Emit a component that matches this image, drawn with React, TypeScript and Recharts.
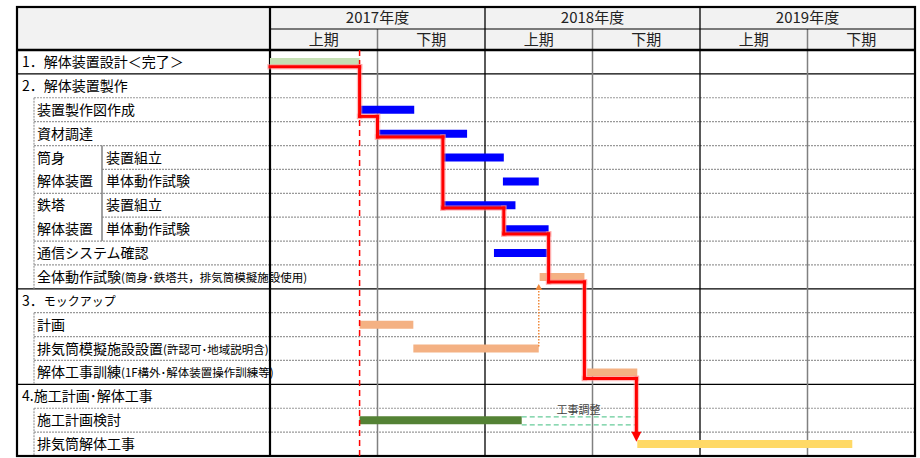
import {
  Bar,
  Cell,
  ComposedChart,
  Customized,
  ReferenceDot,
  ReferenceLine,
  XAxis,
  YAxis,
} from "recharts";

const YEAR_TICKS = [6, 18, 30];
const YEAR_LABELS = ["2017年度", "2018年度", "2019年度"];
const HALF_TICKS = [3, 9, 15, 21, 27, 33];
const HALF_LABELS = ["上期", "下期", "上期", "下期", "上期", "下期"];

const ROW_LABELS = [
  "1．解体装置設計＜完了＞",
  "2．解体装置製作",
  "装置製作図作成",
  "資材調達",
  "装置組立",
  "単体動作試験",
  "装置組立",
  "単体動作試験",
  "通信システム確認",
  "全体動作試験",
  "3．",
  "計画",
  "排気筒模擬施設設置",
  "解体工事訓練",
  "4.施工計画･解体工事",
  "施工計画検討",
  "排気筒解体工事",
];
const ROW_NOTES = [
  "", "", "", "", "", "", "", "", "",
  "(筒身･鉄塔共，排気筒模擬施設使用)",
  "モックアップ",
  "",
  "(許認可･地域説明含)",
  "(1F構外･解体装置操作訓練等)",
  "", "", "",
];
const ROW_GROUPS = ["", "", "", "", "筒身", "解体装置", "鉄塔", "解体装置", "", "", "", "", "", "", "", "", ""];
const ROW_INDENT = [0, 0, 1, 1, 2, 2, 2, 2, 1, 1, 0, 1, 1, 1, 0, 1, 1];

// months from 2017-04
const TASK_START = [0, null, 5, 6, 9.65, 13, 9.65, 13.15, 12.5, 15.05, null, 5, 8, 17.7, null, 5, 20.5];
const TASK_END = [5, null, 8.05, 11, 13.05, 15, 13.7, 15.55, 15.5, 17.55, null, 8, 15, 20.5, null, 14.05, 32.5];
const TASK_COLOR = [
  "#c5e0b4", "", "#0000ff", "#0000ff", "#0000ff", "#0000ff", "#0000ff", "#0000ff", "#0000ff",
  "#f4b183", "", "#f4b183", "#f4b183", "#f4b183", "", "#548235", "#ffd966",
];

// critical path (month, row position from the top)
const PATH_MONTHS = [0, 5, 5, 6, 6, 9.65, 9.65, 13.05, 13.05, 15.55, 15.55, 17.55, 17.55, 20.45, 20.45];
const PATH_ROWS = [0.7, 0.7, 2.78, 2.78, 3.64, 3.64, 6.62, 6.62, 7.7, 7.7, 9.71, 9.71, 13.75, 13.75, 16.0];
const PATH_END = { month: 20.45, row: 16.4 };

const MOCK_LINK = { month: 15, from: 12.42, to: 10.02, tip: 9.8 };
const ADJUST = { from: 14.05, to: 20.4, top: 15.36, bottom: 15.7, label: "工事調整" };
const NOW_MONTH = 5;

const data = ROW_LABELS.map((_, i) => ({
  key: String(i),
  range: TASK_START[i] == null ? null : [TASK_START[i], TASK_END[i]],
  color: TASK_COLOR[i],
}));

const N = ROW_LABELS.length;
// the numeric y axis of a vertical chart spans the data index range 0..N-1
const ry = (r: number) => (r * (N - 1)) / N;

const W = 920;
const H = 458;
const L = 17;
const T = 7;
const R = 915;
const B = 456;
const LABEL_R = 270;
const HEAD1 = 29;
const HEAD2 = 50;
const ROW_H = (B - HEAD2) / N;
const mx = (m: number) => LABEL_R + (m * (R - LABEL_R)) / 36;
const FONT = '"Noto Sans CJK JP", "Noto Sans", sans-serif';

function Frame() {
  const lines: any[] = [];
  for (let i = 1; i < N; i++) {
    const y = HEAD2 + i * ROW_H;
    if (ROW_INDENT[i] === 0) {
      lines.push(<line key={`h${i}`} x1={L} x2={R} y1={y} y2={y} stroke="#000" strokeWidth={1.3} />);
    } else {
      const x1 = ROW_INDENT[i] === 2 && ROW_GROUPS[i] === "解体装置" ? 102 : 34;
      lines.push(
        <line key={`h${i}`} x1={x1} x2={R} y1={y} y2={y} stroke="#999" strokeWidth={1.2} strokeDasharray="2 1" />
      );
    }
  }
  const sub = (a: number, b: number, x: number, k: string) => (
    <line key={k} x1={x} x2={x} y1={HEAD2 + a * ROW_H} y2={HEAD2 + b * ROW_H} stroke="#999" strokeWidth={1.2} strokeDasharray="2 1" />
  );
  return (
    <g>
      {lines}
      {sub(2, 10, 34, "s1")}
      {sub(11, 14, 34, "s2")}
      {sub(15, 17, 34, "s3")}
      <line x1={102} x2={102} y1={HEAD2 + 4 * ROW_H} y2={HEAD2 + 8 * ROW_H} stroke="#808080" strokeWidth={1.5} />
      {[6, 18, 30].map((m) => (
        <line key={`v${m}`} x1={mx(m)} x2={mx(m)} y1={HEAD1} y2={B} stroke="#808080" strokeWidth={1.5} />
      ))}
      {[12, 24].map((m) => (
        <line key={`y${m}`} x1={mx(m)} x2={mx(m)} y1={T} y2={B} stroke="#000" strokeWidth={1.3} />
      ))}
      <line x1={LABEL_R} x2={R} y1={HEAD1} y2={HEAD1} stroke="#000" strokeWidth={1} />
      <line x1={L} x2={R} y1={HEAD2} y2={HEAD2} stroke="#000" strokeWidth={2.5} />
      <line x1={LABEL_R} x2={LABEL_R} y1={T} y2={B} stroke="#000" strokeWidth={2.2} />
      <rect x={L} y={T} width={R - L} height={B - T} fill="none" stroke="#000" strokeWidth={2.2} />
    </g>
  );
}

function RowTick(props: any) {
  const { y, payload } = props;
  const i = Number(payload.value);
  const indent = ROW_INDENT[i];
  const x = indent === 0 ? 22 : indent === 1 ? 37 : 106;
  return (
    <g fontFamily={FONT} fill="#000">
      {ROW_GROUPS[i] && (
        <text x={37} y={y} dy="0.36em" fontSize={14}>
          {ROW_GROUPS[i]}
        </text>
      )}
      <text x={x} y={y} dy="0.36em" fontSize={14}>
        {ROW_LABELS[i]}
        {ROW_NOTES[i] && <tspan fontSize={i === 10 ? 12 : 11.5}>{ROW_NOTES[i]}</tspan>}
      </text>
    </g>
  );
}

const headerTick = (ticks: number[], labels: string[], cy: number) => (props: any) => {
  const { x, payload } = props;
  return (
    <text x={x} y={cy} dy="0.36em" textAnchor="middle" fontSize={15} fontFamily={FONT} fill="#222">
      {labels[ticks.indexOf(payload.value)]}
    </text>
  );
};

const seg = (x1: number, r1: number, x2: number, r2: number) => [
  { x: x1, y: ry(r1) },
  { x: x2, y: ry(r2) },
];

export default function App() {
  const pathSegs = PATH_MONTHS.slice(1).map((m, i) =>
    seg(PATH_MONTHS[i], PATH_ROWS[i], m, PATH_ROWS[i + 1])
  );
  return (
    <div style={{ position: "absolute", left: 0, top: 0, width: W, height: H, background: "#fff" }}>
      <div
        style={{ position: "absolute", left: L, top: T, width: R - L, height: HEAD2 - T, background: "#f2f2f2" }}
      />
      <div style={{ position: "absolute", left: 0, top: 0 }}>
        <ComposedChart
          width={W}
          height={H}
          layout="vertical"
          data={data}
          margin={{ top: T, right: W - R, bottom: H - B, left: L }}
          style={{ fontFamily: FONT }}
        >
          <Customized component={Frame} />
          <XAxis type="number" domain={[0, 36]} allowDataOverflow hide />
          <XAxis
            xAxisId="half"
            orientation="top"
            type="number"
            domain={[0, 36]}
            allowDataOverflow
            ticks={HALF_TICKS}
            interval={0}
            height={21}
            axisLine={false}
            tickLine={false}
            tick={headerTick(HALF_TICKS, HALF_LABELS, 39.5)}
          />
          <XAxis
            xAxisId="year"
            orientation="top"
            type="number"
            domain={[0, 36]}
            allowDataOverflow
            ticks={YEAR_TICKS}
            interval={0}
            height={22}
            axisLine={false}
            tickLine={false}
            tick={headerTick(YEAR_TICKS, YEAR_LABELS, 18)}
          />
          <YAxis
            type="category"
            dataKey="key"
            width={LABEL_R - L}
            interval={0}
            axisLine={false}
            tickLine={false}
            tick={<RowTick />}
          />
          <YAxis yAxisId="r" type="number" domain={[0, N - 1]} allowDataOverflow hide />
          <Bar dataKey="range" barSize={8} isAnimationActive={false}>
            {data.map((d) => (
              <Cell key={d.key} fill={d.color} />
            ))}
          </Bar>
          <ReferenceLine x={NOW_MONTH} stroke="#ff0000" strokeWidth={1.5} strokeDasharray="6 4" />
          <ReferenceLine
            yAxisId="r"
            segment={seg(ADJUST.from, ADJUST.top, ADJUST.to, ADJUST.top)}
            stroke="#66cc99"
            strokeWidth={1.3}
            strokeDasharray="5 3"
            label={{ value: ADJUST.label, position: "top", fontSize: 11, fill: "#404040", offset: 3 }}
          />
          <ReferenceLine
            yAxisId="r"
            segment={seg(ADJUST.from, ADJUST.bottom, ADJUST.to, ADJUST.bottom)}
            stroke="#66cc99"
            strokeWidth={1.3}
            strokeDasharray="5 3"
          />
          <ReferenceLine
            yAxisId="r"
            segment={seg(MOCK_LINK.month, MOCK_LINK.from, MOCK_LINK.month, MOCK_LINK.to)}
            stroke="#f08a3c"
            strokeWidth={1.5}
            strokeDasharray="1.5 1.5"
          />
          <ReferenceDot
            yAxisId="r"
            x={MOCK_LINK.month}
            y={ry(MOCK_LINK.tip)}
            shape={(p: any) => (
              <polygon
                points={`${p.cx},${p.cy} ${p.cx - 3.5},${p.cy + 6} ${p.cx + 3.5},${p.cy + 6}`}
                fill="#f08a3c"
              />
            )}
          />
          {pathSegs.map((s, i) => (
            <ReferenceLine
              key={`g${i}`}
              yAxisId="r"
              segment={s}
              stroke="#ff8c8c"
              strokeOpacity={0.55}
              strokeWidth={5.5}
              strokeLinecap="square"
            />
          ))}
          {pathSegs.map((s, i) => (
            <ReferenceLine
              key={`p${i}`}
              yAxisId="r"
              segment={s}
              stroke="#ff0000"
              strokeWidth={3}
              strokeLinecap="square"
            />
          ))}
          <ReferenceDot
            yAxisId="r"
            x={PATH_END.month}
            y={ry(PATH_END.row)}
            shape={(p: any) => (
              <polygon
                points={`${p.cx},${p.cy} ${p.cx - 5},${p.cy - 10} ${p.cx + 5},${p.cy - 10}`}
                fill="#ff0000"
              />
            )}
          />
        </ComposedChart>
      </div>
    </div>
  );
}
